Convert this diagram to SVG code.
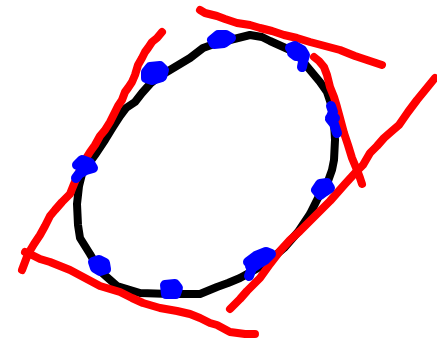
<svg xmlns="http://www.w3.org/2000/svg" width="437" height="343" viewBox="0 0 437 343">
<style>
.k{fill:none;stroke:#000;stroke-width:8;stroke-linecap:round;stroke-linejoin:round}
.r{fill:none;stroke:#ff0000;stroke-width:8;stroke-linecap:round;stroke-linejoin:round}
.b{fill:#0000ff;stroke:#0000ff;stroke-width:10;stroke-linecap:round;stroke-linejoin:round}
</style>
<rect width="437" height="343" fill="#fff"/>
<g id="curve">
<path class="k" d="M217,43 L230,40 L250,35 L262,37 L270,41 L290,50 L300,58 L310,70 L320,82 L327,92 L332,107 L334,122 L335,140 L334,160 L332,170 L327,184 L318,198 L310,214 L298,232 L284,248 L270,260 L258,268 L240,278 L228,283 L217,287 L200,294 L170,294 L140,293 L117,286 L100,271 L90,254 L80,238 L78,225 L77,204 L79,186 L82,174 L90,162 L95,155 L105,140 L113,127 L120,116 L126,108 L135,102 L142,93 L150,84 L160,76 L175,67 L190,58 L203,48 L217,43 Z"/>
</g>
<g id="tangents">
<path class="r" d="M162,32 L157,38 L152,42 L148,48 L145,52 L142,58 L138,65 L135,75 L132,82 L128,88 L125,92 L122,100 L118,106 L115,112 L110,122 L105,130 L100,136 L95,145 L90,152 L85,160 L80,170 L74,184 L70,194 L62,202 L55,210 L50,216 L45,226 L40,235 L34,244 L28,254 L22,270"/>
<path class="r" d="M25,252 L32,255 L40,259 L50,262 L60,266 L70,270 L85,278 L100,286 L120,292 L132,298 L143,303 L160,308 L177,311 L190,314 L200,318 L210,323 L217,325 L230,332 L245,334 L255,334"/>
<path class="r" d="M200,10 L205,13 L217,16 L225,19 L237,23 L250,25 L260,28 L272,31 L284,35 L297,38 L310,42 L325,46 L340,50 L355,56 L367,60 L382,65"/>
<path class="r" d="M314,57 L319,61 L324,67 L327,75 L330,87 L334,97 L337,107 L340,118 L344,133 L348,145 L352,158 L357,170 L360,178 L362,184"/>
<path class="r" d="M435,78 L426,89 L417,100 L408,112 L399,125 L392,131 L384,138 L377,146 L370,153 L363,165 L356,172 L345,184 L330,201 L315,216 L300,231 L290,240 L280,251 L270,264 L260,278 L247,291 L240,299 L230,309"/>
</g>
<g id="dots">
<path class="b" d="M212,40 L218,35 L226,35 L231,38 L224,43 L214,44 Z"/>
<path class="b" d="M146,72 L150,67 L160,66 L164,70 L162,77 L152,80 L146,78 Z"/>
<path class="b" d="M290,48 L295,46 L302,50 L305,55 L303,62 L302,67 M303,55 L296,56 L292,53 Z"/>
<path class="b" d="M331,106 L333,112 L330,119 L334,124 L337,133 M330,118 L335,118"/>
<path class="b" d="M77,165 L82,160 L90,163 L93,168 L86,170 L79,174 L76,178"/>
<path class="b" d="M316,190 L320,184 L327,183 L330,188 L324,192 L320,195 Z"/>
<path class="b" d="M93,262 L99,260 L105,263 L106,269 L100,271 L95,268 Z"/>
<path class="b" d="M165,285 L175,284 L178,288 L176,294 L166,294 Z"/>
<path class="b" d="M248,262 L256,256 L266,252 L271,254 L265,260 L258,264 L252,268 L249,276 M258,264 L250,266"/>
</g>
</svg>
